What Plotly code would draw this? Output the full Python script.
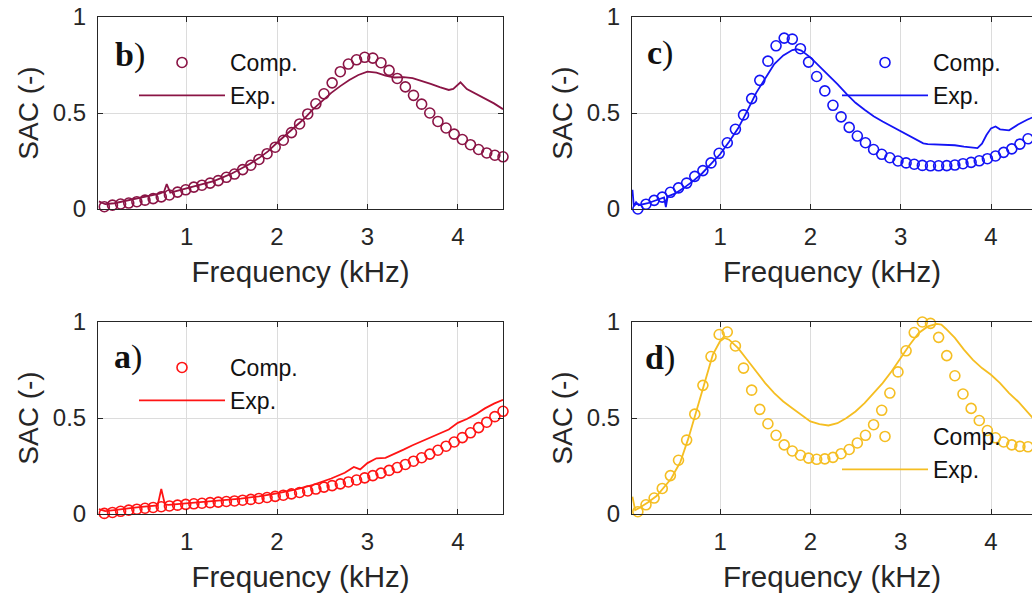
import plotly.graph_objects as go

# ---------------- data ----------------
comp_x = [0.09, 0.18, 0.27, 0.36, 0.45, 0.54, 0.63, 0.72, 0.81, 0.90,
          0.99, 1.08, 1.17, 1.26, 1.35, 1.44, 1.53, 1.62, 1.71, 1.80,
          1.89, 1.98, 2.07, 2.16, 2.25, 2.34, 2.43, 2.52, 2.61, 2.70,
          2.79, 2.88, 2.97, 3.06, 3.15, 3.24, 3.33, 3.42, 3.51, 3.60,
          3.69, 3.78, 3.87, 3.96, 4.05, 4.14, 4.23, 4.32, 4.41, 4.50]

b_comp = [0.012, 0.02, 0.026, 0.031, 0.038, 0.046, 0.054, 0.063, 0.073, 0.088,
          0.1, 0.114, 0.124, 0.135, 0.148, 0.165, 0.182, 0.205, 0.228, 0.258,
          0.288, 0.322, 0.358, 0.398, 0.443, 0.495, 0.548, 0.6, 0.657, 0.715,
          0.755, 0.777, 0.79, 0.786, 0.762, 0.722, 0.68, 0.636, 0.592, 0.546,
          0.5, 0.456, 0.422, 0.39, 0.362, 0.335, 0.31, 0.292, 0.28, 0.272]
b_exp_x = [0.03, 0.1, 0.2, 0.3, 0.4, 0.5, 0.6, 0.7, 0.75, 0.78,
           0.82, 0.9, 1.0, 1.1, 1.2, 1.3, 1.4, 1.5, 1.6, 1.7,
           1.8, 1.9, 2.0, 2.1, 2.2, 2.3, 2.4, 2.5, 2.6, 2.7,
           2.8, 2.9, 3.0, 3.1, 3.2, 3.3, 3.4, 3.5, 3.6, 3.7,
           3.8, 3.9, 3.95, 4.03, 4.1, 4.2, 4.3, 4.4, 4.5]
b_exp = [0.04, 0.025, 0.03, 0.04, 0.05, 0.06, 0.07, 0.08, 0.09, 0.13,
         0.085, 0.095, 0.105, 0.118, 0.13, 0.145, 0.165, 0.185, 0.21, 0.235,
         0.265, 0.3, 0.345, 0.385, 0.425, 0.47, 0.52, 0.565, 0.605, 0.64,
         0.672, 0.698, 0.715, 0.71, 0.695, 0.685, 0.687, 0.682, 0.668, 0.652,
         0.635, 0.62, 0.625, 0.66, 0.625, 0.6, 0.575, 0.55, 0.52]

c_comp = [0.0, 0.025, 0.045, 0.062, 0.087, 0.11, 0.135, 0.17, 0.2, 0.24,
          0.29, 0.345, 0.415, 0.49, 0.575, 0.67, 0.77, 0.85, 0.89, 0.885,
          0.835, 0.765, 0.69, 0.615, 0.54, 0.48, 0.425, 0.38, 0.345, 0.31,
          0.285, 0.267, 0.25, 0.24, 0.233, 0.227, 0.225, 0.225, 0.226, 0.229,
          0.236, 0.243, 0.251, 0.262, 0.276, 0.295, 0.313, 0.338, 0.366, 0.395]
c_exp_x = [0.03, 0.045, 0.07, 0.1, 0.2, 0.3, 0.38, 0.4, 0.42, 0.5,
           0.6, 0.7, 0.8, 0.9, 1.0, 1.1, 1.2, 1.3, 1.4, 1.5,
           1.6, 1.7, 1.8, 1.85, 1.9, 2.0, 2.1, 2.2, 2.3, 2.4,
           2.5, 2.6, 2.7, 2.8, 2.9, 3.0, 3.1, 3.2, 3.25, 3.3,
           3.4, 3.5, 3.6, 3.7, 3.8, 3.85, 3.9, 3.95, 4.0, 4.05,
           4.1, 4.2, 4.3, 4.4, 4.5]
c_exp = [0.1, 0.015, 0.035, 0.02, 0.03, 0.045, 0.06, 0.01, 0.065, 0.08,
         0.11, 0.145, 0.185, 0.235, 0.285, 0.35, 0.42, 0.51, 0.605, 0.68,
         0.755, 0.8, 0.828, 0.832, 0.825, 0.79, 0.745, 0.70, 0.65, 0.60,
         0.553, 0.517, 0.483, 0.456, 0.43, 0.404, 0.378, 0.352, 0.342, 0.338,
         0.335, 0.333, 0.332, 0.325, 0.318, 0.317, 0.34, 0.385, 0.42, 0.43,
         0.415, 0.41, 0.44, 0.465, 0.485]

a_comp = [0.003, 0.008, 0.014, 0.02, 0.025, 0.03, 0.034, 0.038, 0.042, 0.046,
          0.05, 0.053, 0.056, 0.059, 0.062, 0.065, 0.068, 0.072, 0.076, 0.081,
          0.086, 0.092, 0.098, 0.105, 0.112, 0.12, 0.13, 0.14, 0.148, 0.157,
          0.167, 0.177, 0.188, 0.2, 0.213, 0.227, 0.242, 0.258, 0.275, 0.293,
          0.312, 0.332, 0.353, 0.375, 0.398, 0.423, 0.45, 0.478, 0.507, 0.535]
a_exp_x = [0.03, 0.1, 0.2, 0.3, 0.4, 0.5, 0.6, 0.68, 0.72, 0.76,
           0.8, 0.9, 1.0, 1.2, 1.4, 1.6, 1.8, 2.0, 2.2, 2.4,
           2.6, 2.75, 2.85, 2.92, 3.0, 3.1, 3.2, 3.3, 3.4, 3.5,
           3.6, 3.7, 3.8, 3.9, 4.0, 4.1, 4.2, 4.3, 4.4, 4.5]
a_exp = [0.025, 0.015, 0.02, 0.027, 0.032, 0.037, 0.041, 0.045, 0.13, 0.05,
         0.048, 0.052, 0.056, 0.063, 0.07, 0.08, 0.092, 0.107, 0.127, 0.152,
         0.185, 0.215, 0.245, 0.232, 0.265, 0.29, 0.292, 0.312, 0.335, 0.358,
         0.378, 0.398, 0.418, 0.44, 0.475, 0.495, 0.52, 0.55, 0.575, 0.595]

d_comp = [0.012, 0.048, 0.083, 0.133, 0.2, 0.28, 0.385, 0.52, 0.67, 0.82,
          0.935, 0.948, 0.875, 0.76, 0.645, 0.545, 0.47, 0.41, 0.36, 0.328,
          0.306, 0.291, 0.285, 0.287, 0.295, 0.314, 0.336, 0.37, 0.41, 0.465,
          0.54, 0.63, 0.74, 0.85, 0.945, 1.0, 0.993, 0.92, 0.825, 0.72,
          0.625, 0.55, 0.487, 0.435, 0.397, 0.375, 0.36, 0.352, 0.35, 0.35]
d_exp_x = [0.03, 0.06, 0.1, 0.2, 0.3, 0.37, 0.42, 0.46, 0.5, 0.56,
           0.65, 0.74, 0.83, 0.92, 1.0, 1.05, 1.1, 1.2, 1.3, 1.4,
           1.5, 1.6, 1.7, 1.8, 1.9, 2.0, 2.1, 2.2, 2.3, 2.4,
           2.5, 2.6, 2.7, 2.8, 2.9, 3.0, 3.1, 3.2, 3.3, 3.4,
           3.45, 3.5, 3.6, 3.7, 3.8, 3.9, 3.95, 4.0, 4.1, 4.2,
           4.3, 4.4, 4.5]
d_exp = [0.09, 0.02, 0.03, 0.06, 0.095, 0.135, 0.165, 0.185, 0.22, 0.27,
         0.395, 0.537, 0.687, 0.83, 0.9, 0.917, 0.908, 0.864, 0.803, 0.743,
         0.682, 0.63, 0.586, 0.551, 0.517, 0.482, 0.468, 0.461, 0.473, 0.5,
         0.534, 0.577, 0.63, 0.682, 0.743, 0.812, 0.882, 0.943, 0.977, 0.99,
         0.986, 0.965, 0.917, 0.856, 0.803, 0.76, 0.743, 0.725, 0.682, 0.63,
         0.586, 0.534, 0.48]

x_ticks = [1, 2, 3, 4]
y_ticks = [0, 0.5, 1]
y_ticklabels = ["0", "0.5", "1"]
legend_names = ["Comp.", "Exp."]
panel_labels = ["b", "c", "a", "d"]

# ---------------- style ----------------
OFF = 0                     # page body margin is removed below
W, H = 1032 - OFF, 597 - OFF
FONT = "Liberation Sans"
TXT = "#262626"
colors = {"b": "#8A1445", "c": "#1414F5", "a": "#FF1414", "d": "#F5BE22"}

# plot areas in screen pixels: (left, right) / (top, bottom)
px_left = (98, 503)
px_right = (632, 1032)
px_top = (17, 209)
px_bot = (322, 514)

def fx(sx):
    return (sx - OFF) / W

def fy(sy):
    return 1 - (sy - OFF) / H

def dx(p):
    return [fx(p[0]), fx(p[1])]

def dy(p):
    return [fy(p[1]), fy(p[0])]

panels = [
    ("b", "", px_left, px_top, [0.02, 4.5], b_comp, b_exp_x, b_exp, (134, 41), (130, 55), True),
    ("c", "2", px_right, px_top, [0.025, 4.454], c_comp, c_exp_x, c_exp, (837, 41), (660, 53), False),
    ("a", "3", px_left, px_bot, [0.02, 4.5], a_comp, a_exp_x, a_exp, (134, 346), (128, 357), True),
    ("d", "4", px_right, px_bot, [0.025, 4.454], d_comp, d_exp_x, d_exp, (837, 415), (660, 358), False),
]

fig = go.Figure()
layout = dict(
    template="none",
    width=W, height=H,
    margin=dict(l=0, r=0, t=0, b=0, pad=0),
    paper_bgcolor="white", plot_bgcolor="white",
    font=dict(family=FONT, color=TXT),
    annotations=[],
)

for i, (key, sfx, xd, yd, xr, comp, ex, ey, lpos, lab, mirror_y) in enumerate(panels):
    col = colors[key]
    leg = "legend" + sfx
    xa = "x" + sfx
    ya = "y" + sfx
    fig.add_trace(go.Scatter(
        x=comp_x, y=comp, mode="markers", name=legend_names[0],
        marker=dict(symbol="circle-open", size=10, color=col, line=dict(width=1.6)),
        cliponaxis=False, xaxis=xa, yaxis=ya, legend=leg,
    ))
    fig.add_trace(go.Scatter(
        x=ex, y=ey, mode="lines", name=legend_names[1],
        line=dict(color=col, width=1.8),
        xaxis=xa, yaxis=ya, legend=leg,
    ))
    layout["xaxis" + sfx] = dict(
        domain=dx(xd), range=xr, anchor=ya, automargin=False,
        tickvals=x_ticks, ticks="inside", ticklen=5, tickcolor=TXT,
        showline=True, linecolor=TXT, linewidth=1, mirror="ticks",
        showgrid=True, gridcolor="#DCDCDC", gridwidth=1, zeroline=False,
        tickfont=dict(size=24, color=TXT), ticklabelstandoff=6,
        ticklabeloverflow="allow",
        title=dict(text="Frequency (kHz)", font=dict(size=29.5, color=TXT), standoff=12),
    )
    layout["yaxis" + sfx] = dict(
        domain=dy(yd), range=[0, 1], anchor=xa, automargin=False,
        tickvals=y_ticks, ticktext=y_ticklabels, ticks="inside", ticklen=5, tickcolor=TXT,
        showline=True, linecolor=TXT, linewidth=1, mirror="ticks" if mirror_y else False,
        showgrid=True, gridcolor="#DCDCDC", gridwidth=1, zeroline=False,
        tickfont=dict(size=24, color=TXT), ticklabelstandoff=6,
        ticklabeloverflow="allow",
        title=dict(text="SAC (-)", font=dict(size=28, color=TXT), standoff=6),
    )
    layout[leg] = dict(
        x=fx(lpos[0]), y=fy(lpos[1]), xanchor="left", yanchor="top",
        bgcolor="rgba(0,0,0,0)", borderwidth=0,
        font=dict(size=23, family=FONT, color="#111111"),
        itemwidth=86, tracegroupgap=0, traceorder="normal",
    )
    layout["annotations"].append(dict(
        text="<b>" + panel_labels[i] + "</b>)", x=fx(lab[0]), y=fy(lab[1]),
        xref="paper", yref="paper", xanchor="center", yanchor="middle",
        showarrow=False, font=dict(family="Liberation Serif", size=34, color="#111111"),
    ))

layout["showlegend"] = True
fig.update_layout(**layout)
fig.write_html(
    "out.html",
    config={"displayModeBar": False},
    post_script="document.body.style.margin='0px';document.body.style.overflow='hidden';",
)
